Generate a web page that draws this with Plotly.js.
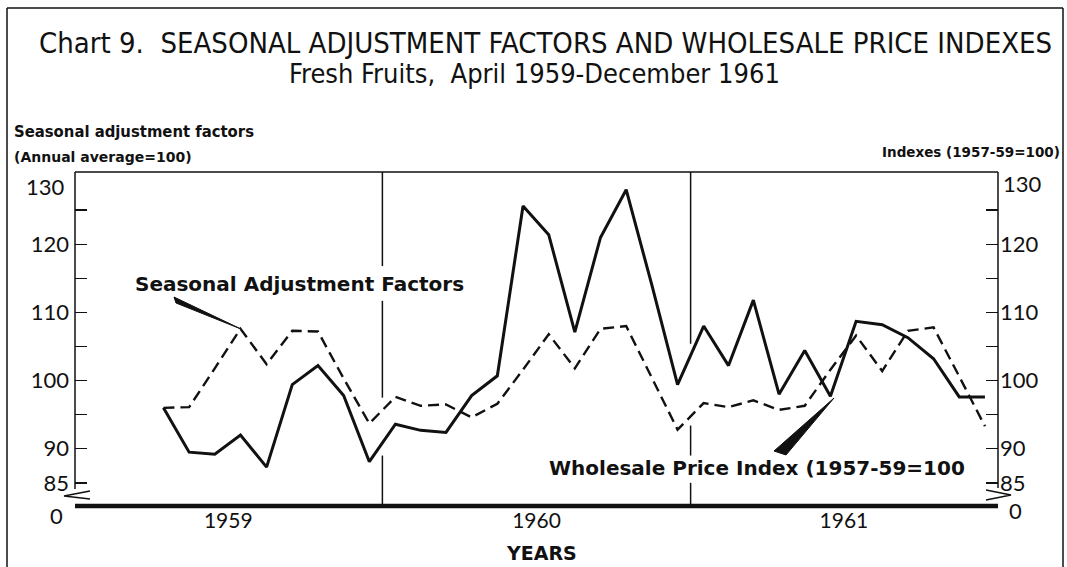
<!DOCTYPE html>
<html>
<head>
<meta charset="utf-8">
<script src="https://cdn.plot.ly/plotly-3.0.1.min.js"></script>
<style>
  html, body { margin: 0; padding: 0; background: #ffffff; }
  #chart { width: 1067px; height: 567px; }
</style>
</head>
<body>
<div id="chart"></div>
<script>
// ---- data ----
const months = [
  '1959-04','1959-05','1959-06','1959-07','1959-08','1959-09','1959-10','1959-11','1959-12',
  '1960-01','1960-02','1960-03','1960-04','1960-05','1960-06','1960-07','1960-08','1960-09','1960-10','1960-11','1960-12',
  '1961-01','1961-02','1961-03','1961-04','1961-05','1961-06','1961-07','1961-08','1961-09','1961-10','1961-11','1961-12'
];
// Seasonal adjustment factors (annual average = 100) - dashed line
const seasonalFactors = [
  96.0, 96.1, 101.8, 107.6, 102.4, 107.3, 107.2, 100.3, 93.7,
  97.6, 96.3, 96.5, 94.6, 96.6, 101.6, 106.8, 101.8, 107.6, 108.0, 100.4, 92.8,
  96.7, 96.1, 97.1, 95.7, 96.3, 101.6, 106.6, 101.4, 107.3, 107.8, 100.6, 93.3
];
// Wholesale price index (1957-59 = 100) - solid line
const wholesaleIndex = [
  96.0, 89.5, 89.2, 92.0, 87.3, 99.4, 102.2, 97.8, 88.1,
  93.6, 92.7, 92.4, 97.8, 100.7, 125.6, 121.4, 107.1, 121.0, 128.0, 114.0, 99.4,
  108.0, 102.2, 111.8, 98.0, 104.4, 97.7, 108.7, 108.2, 106.3, 103.2, 97.6, 97.6
];
const yearLabels = ['1959', '1960', '1961'];
const yearTickDates = ['1959-07-02', '1960-07-02', '1961-07-02'];
const yearBoundaries = ['1960-01-01', '1961-01-01'];
const tickValues = [85, 90, 95, 100, 105, 110, 115, 120, 125];
const tickLabels = ['85', '90', '', '100', '', '110', '', '120', ''];

// ---- layout helpers (pixel -> paper) ----
const L = 75, R = 998, T = 172, B = 506;
const px = x => (x - L) / (R - L);
const py = y => (B - y) / (B - T);
const Y_MIN = 81.6, Y_MAX = 130.6;

const FONT = 'Lato, "Open Sans", "DejaVu Sans", sans-serif';
const WIDE = '"DejaVu Sans", Verdana, sans-serif';
const NARROW = '"Liberation Sans Narrow", "DejaVu Sans Condensed", "Noto Sans", sans-serif';

const traces = [
  {
    x: months, y: seasonalFactors, type: 'scatter', mode: 'lines',
    xperiod: 'M1', xperiodalignment: 'middle',
    line: { color: '#111', width: 2.4, dash: '11px,6px' },
    name: 'Seasonal Adjustment Factors', yaxis: 'y', hoverinfo: 'x+y'
  },
  {
    x: months, y: wholesaleIndex, type: 'scatter', mode: 'lines',
    xperiod: 'M1', xperiodalignment: 'middle',
    line: { color: '#111', width: 3 },
    name: 'Wholesale Price Index', yaxis: 'y2', hoverinfo: 'x+y'
  }
];

const shapes = [];
function seg(x0, y0, x1, y1, w) {
  shapes.push({ type: 'line', xref: 'paper', yref: 'paper', x0: px(x0), y0: py(y0), x1: px(x1), y1: py(y1),
    line: { color: '#111', width: w } });
}
// outer frame
seg(7, 8, 1063, 8, 1.5);
seg(7, 8, 7, 567, 1.5);
seg(1063, 8, 1063, 567, 1.5);
// plot frame
seg(75, 172, 998, 172, 1.5);
seg(75, 172, 75, 489, 1.5);
seg(998, 172, 998, 488, 1.5);
seg(75, 506, 998, 506, 4.5);
// axis breaks (zigzags)
shapes.push({ type: 'path', xref: 'paper', yref: 'paper',
  path: `M ${px(90)} ${py(491)} L ${px(64)} ${py(496)} L ${px(90)} ${py(499)}`,
  line: { color: '#111', width: 1.5 } });
shapes.push({ type: 'path', xref: 'paper', yref: 'paper',
  path: `M ${px(986)} ${py(490)} L ${px(1011)} ${py(495)} L ${px(986)} ${py(500)}`,
  line: { color: '#111', width: 1.5 } });
// year boundary lines (broken where text / lines pass)
const yrSegs = [
  [[Y_MAX, 116.8], [111.7, 97.5], [89.0, Y_MIN]],
  [[Y_MAX, 105.4], [93.4, 89.0], [85.0, Y_MIN]]
];
yearBoundaries.forEach((d, i) => {
  yrSegs[i].forEach(s => shapes.push({ type: 'line', xref: 'x', yref: 'y', x0: d, x1: d, y0: s[0], y1: s[1],
    line: { color: '#111', width: 1.5 } }));
});
// pointer wedges
shapes.push({ type: 'path', xref: 'paper', yref: 'paper',
  path: `M ${px(174)} ${py(297)} L ${px(176)} ${py(303)} L ${px(241)} ${py(329)} Z`,
  fillcolor: '#111', line: { color: '#111', width: 1 } });
shapes.push({ type: 'path', xref: 'paper', yref: 'paper',
  path: `M ${px(774)} ${py(451)} L ${px(786)} ${py(455)} L ${px(834)} ${py(398)} Z`,
  fillcolor: '#111', line: { color: '#111', width: 1 } });

function ann(text, x, y, size, anchor, family) {
  return { text, xref: 'paper', yref: 'paper', x: px(x), y: py(y), xanchor: anchor, yanchor: 'middle',
    showarrow: false, font: { family: family || FONT, size, color: '#111' } };
}

const annotations = [
  ann('Chart 9.  SEASONAL ADJUSTMENT FACTORS AND WHOLESALE PRICE INDEXES', 545, 43, 29, 'center', NARROW),
  ann('Fresh Fruits,  April 1959-December 1961', 534, 73, 27, 'center', NARROW),
  ann('<b>Seasonal adjustment factors</b>', 12, 131, 16.5, 'left', NARROW),
  ann('<b>(Annual average=100)</b>', 12, 157, 14, 'left', WIDE),
  ann('<b>Indexes (1957-59=100)</b>', 1062, 152, 13.5, 'right', WIDE),
  ann('<b>Seasonal Adjustment Factors</b>', 133, 284, 20, 'left', WIDE),
  ann('<b>Wholesale Price Index (1957-59=100</b>', 547, 468, 20, 'left', WIDE),
  ann('<b>YEARS</b>', 541, 553, 19, 'center', WIDE),
  ann('130', 67, 186, 22, 'right'),
  ann('0', 65, 515, 22, 'right'),
  ann('130', 1001, 183, 22, 'left'),
  ann('0', 1007, 510, 22, 'left')
];

const yCommon = {
  range: [Y_MIN, Y_MAX], tickvals: tickValues, ticktext: tickLabels,
  ticks: 'inside', ticklen: 12, tickwidth: 1.5, tickcolor: '#111',
  showgrid: false, zeroline: false, showline: false, fixedrange: true,
  tickfont: { family: FONT, size: 22, color: '#111' }
};

const layout = {
  width: 1067, height: 567,
  margin: { l: L, r: 1067 - R, t: T, b: 567 - B, pad: 0 },
  paper_bgcolor: '#ffffff', plot_bgcolor: '#ffffff',
  showlegend: false,
  xaxis: {
    type: 'date', range: ['1959-01-01', '1962-01-01'],
    tickvals: yearTickDates, ticktext: yearLabels,
    ticks: '', showgrid: false, zeroline: false, showline: false,
    tickfont: { family: FONT, size: 21, color: '#111' }
  },
  yaxis: Object.assign({}, yCommon, { side: 'left', ticklabelstandoff: 5 }),
  yaxis2: Object.assign({}, yCommon, { side: 'right', overlaying: 'y', ticklabelstandoff: 1 }),
  shapes, annotations
};

Plotly.newPlot('chart', traces, layout, { displayModeBar: false, staticPlot: true });
</script>
</body>
</html>
